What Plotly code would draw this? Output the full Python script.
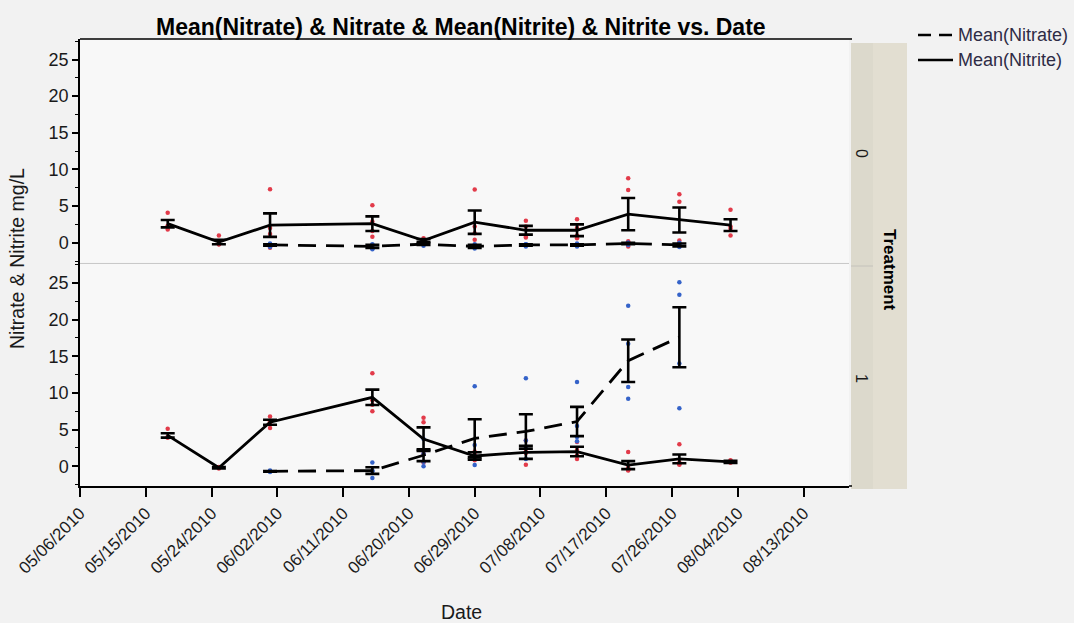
import plotly.graph_objects as go
from plotly.subplots import make_subplots

# Sampling dates (weekly, no sample on 06/08)
dates = ["2010-05-18", "2010-05-25", "2010-06-01", "2010-06-15", "2010-06-22",
         "2010-06-29", "2010-07-06", "2010-07-13", "2010-07-20", "2010-07-27",
         "2010-08-03"]

# Treatment 0: means and standard errors (mg/L)
t0_nitrite_mean = [2.6, 0.1, 2.4, 2.6, 0.3, 2.8, 1.7, 1.7, 3.9, 3.1, 2.4]
t0_nitrite_se = [0.5, 0.3, 1.6, 1.0, 0.2, 1.6, 0.6, 0.8, 2.2, 1.7, 0.8]
t0_nitrate_mean = [None, None, -0.3, -0.5, -0.2, -0.5, -0.3, -0.3, -0.1, -0.3, None]
t0_nitrate_se = [0, 0, 0.1, 0.2, 0.1, 0.2, 0.1, 0.1, 0.1, 0.2, 0]

# Treatment 1: means and standard errors (mg/L)
t1_nitrite_mean = [4.2, -0.2, 6.0, 9.4, 3.7, 1.4, 1.9, 2.0, 0.15, 1.0, 0.6]
t1_nitrite_se = [0.3, 0.1, 0.35, 1.05, 1.6, 0.5, 0.9, 0.65, 0.55, 0.6, 0.15]
t1_nitrate_mean = [None, None, -0.7, -0.6, 1.5, 3.8, 4.75, 6.1, 14.4, 17.6, None]
t1_nitrate_se = [0, 0, 0.05, 0.45, 0.8, 2.6, 2.35, 2.0, 2.9, 4.1, 0]

# Individual replicate readings per date
t0_nitrite_reps = [[4.1, 2.2, 1.8, 2.3], [1.0, -0.2, -0.2, -0.2], [7.3, 2.0, 1.2, -0.7],
                   [5.1, 2.9, 1.6, 0.8], [0.6, 0.3, 0.2, 0.1], [7.25, 2.2, 0.4, 1.3],
                   [3.0, 2.2, 0.9, 0.7], [3.2, 2.0, 1.0, 0.6], [8.8, 7.2, 0.2, -0.5],
                   [6.6, 5.6, 0.3, -0.1], [4.5, 2.2, 1.9, 1.0]]
t0_nitrate_reps = [[], [], [-0.6, -0.3, -0.2, -0.1], [-0.9, -0.6, -0.3, -0.2],
                   [-0.4, -0.2, -0.1, -0.1], [-0.8, -0.6, -0.4, -0.2],
                   [-0.5, -0.3, -0.2, -0.2], [-0.5, -0.3, -0.3, -0.1],
                   [-0.3, -0.1, 0.0, 0.0], [-0.6, -0.4, -0.2, 0.0], []]
t1_nitrite_reps = [[5.1, 4.0, 4.0, 3.9], [-0.1, -0.2, -0.3, -0.2], [6.8, 5.2, 6.0, 6.1],
                   [12.7, 7.5, 9.0, 8.4], [6.6, 6.0, 1.7, 0.5], [2.0, 1.6, 1.2, 0.8],
                   [3.5, 2.0, 1.8, 0.2], [3.3, 2.2, 1.0, 1.5], [1.95, -0.2, -0.5, -0.6],
                   [3.0, 0.5, 0.3, 0.2], [0.8, 0.7, 0.5, 0.5]]
t1_nitrate_reps = [[], [], [-0.6, -0.7, -0.7, -0.8], [0.5, -1.6, -0.7, -0.6],
                   [3.7, 1.7, 0.6, 0.0], [10.9, 2.9, 1.4, 0.15], [12.0, 3.5, 2.5, 1.0],
                   [11.5, 5.5, 4.0, 3.4], [21.9, 16.7, 10.8, 9.2],
                   [25.1, 23.4, 14.0, 7.9], []]

treatment_levels = ["0", "1"]
x_tick_start = "2010-05-06"
x_range = ["2010-05-06", "2010-08-19 05:00"]
y_range = [-2.7, 27.8]

FONT = "Liberation Sans, Arial, sans-serif"
RED = "#e23b4a"
BLUE = "#3563c9"

# Canvas geometry (pixels)
W, H = 1074, 623
L, R, T, B = 80, 849, 39, 486


def px_x(x):
    return (x - L) / (R - L)


def px_y(y):
    return (B - y) / (B - T)


def flatten(reps):
    xs, ys = [], []
    for d, vals in zip(dates, reps):
        for v in vals:
            xs.append(d)
            ys.append(v)
    return xs, ys


fig = make_subplots(rows=2, cols=1, shared_xaxes=True, vertical_spacing=0)

panels = [
    (1, t0_nitrite_reps, t0_nitrate_reps, t0_nitrite_mean, t0_nitrite_se,
     t0_nitrate_mean, t0_nitrate_se),
    (2, t1_nitrite_reps, t1_nitrate_reps, t1_nitrite_mean, t1_nitrite_se,
     t1_nitrate_mean, t1_nitrate_se),
]

for row, ni_reps, na_reps, ni_mean, ni_se, na_mean, na_se in panels:
    xs, ys = flatten(ni_reps)
    fig.add_trace(go.Scatter(x=xs, y=ys, mode="markers", name="Nitrite",
                             marker=dict(color=RED, size=4.5), showlegend=False),
                  row=row, col=1)
    xs, ys = flatten(na_reps)
    fig.add_trace(go.Scatter(x=xs, y=ys, mode="markers", name="Nitrate",
                             marker=dict(color=BLUE, size=4.5), showlegend=False),
                  row=row, col=1)
    fig.add_trace(go.Scatter(x=dates, y=na_mean, mode="lines", name="Mean(Nitrate)",
                             line=dict(color="black", width=2.8, dash="18px,10px"),
                             error_y=dict(type="data", array=na_se, color="black",
                                          thickness=2.6, width=7),
                             showlegend=False),
                  row=row, col=1)
    fig.add_trace(go.Scatter(x=dates, y=ni_mean, mode="lines", name="Mean(Nitrite)",
                             line=dict(color="black", width=2.8),
                             error_y=dict(type="data", array=ni_se, color="black",
                                          thickness=2.6, width=7),
                             showlegend=False),
                  row=row, col=1)

yaxis_style = dict(
    range=y_range, tickmode="array", tickvals=[0, 5, 10, 15, 20, 25],
    ticks="outside", ticklen=6, tickwidth=1.5, tickcolor="black",
    showline=True, linecolor="black", linewidth=1.5, showgrid=False, zeroline=False,
    tickfont=dict(family=FONT, size=18, color="#1a1a1a"),
    minor=dict(dtick=2.5, tick0=0, ticks="outside", ticklen=3, tickcolor="black",
               tickwidth=1.2, showgrid=False),
)
fig.update_yaxes(**yaxis_style, row=1, col=1)
fig.update_yaxes(**yaxis_style, row=2, col=1)

fig.update_xaxes(range=x_range, showgrid=False, zeroline=False, row=1, col=1,
                 showline=True, linecolor="#c9c9c9", linewidth=1, ticks="",
                 showticklabels=False)
fig.update_xaxes(range=x_range, showgrid=False, zeroline=False, row=2, col=1,
                 type="date", tickmode="linear", tick0=x_tick_start,
                 dtick=9 * 86400000, tickformat="%m/%d/%Y", tickangle=-45,
                 ticks="outside", ticklen=9, tickwidth=1.5, tickcolor="black",
                 showline=True, linecolor="black", linewidth=1.5,
                 tickfont=dict(family=FONT, size=17, color="#1a1a1a"))

shapes = [
    # top frame
    dict(type="line", xref="paper", yref="paper", x0=0, x1=px_x(852), y0=1, y1=1,
         line=dict(color="black", width=1.5)),
    dict(type="line", xref="paper", yref="paper", x0=px_x(849), x1=px_x(852), y0=0, y1=0,
         line=dict(color="black", width=1.5)),
    # Treatment strip
    dict(type="rect", xref="paper", yref="paper", x0=px_x(851), x1=px_x(873),
         y0=px_y(489), y1=px_y(43), fillcolor="#dcd9cc", line=dict(width=0), layer="below"),
    dict(type="rect", xref="paper", yref="paper", x0=px_x(873), x1=px_x(907),
         y0=px_y(489), y1=px_y(43), fillcolor="#e2ded1", line=dict(width=0), layer="below"),
    dict(type="line", xref="paper", yref="paper", x0=px_x(851), x1=px_x(873),
         y0=px_y(266), y1=px_y(266), line=dict(color="#c4c2bb", width=1)),
    # legend keys
    dict(type="line", xref="paper", yref="paper", x0=px_x(918), x1=px_x(953),
         y0=px_y(35), y1=px_y(35), line=dict(color="black", width=2.6, dash="13px,8px")),
    dict(type="line", xref="paper", yref="paper", x0=px_x(918), x1=px_x(953),
         y0=px_y(60), y1=px_y(60), line=dict(color="black", width=2.6)),
]

annotations = [
    dict(text="<b>Mean(Nitrate) & Nitrate & Mean(Nitrite) & Nitrite vs. Date</b>",
         xref="paper", yref="paper", x=px_x(461), y=px_y(27), showarrow=False,
         font=dict(family=FONT, size=23, color="black"), xanchor="center", yanchor="middle"),
    dict(text="Nitrate & Nitrite mg/L", xref="paper", yref="paper", x=px_x(17),
         y=px_y(259), showarrow=False, textangle=-90,
         font=dict(family=FONT, size=19.5, color="#1a1a1a"), xanchor="center", yanchor="middle"),
    dict(text="Date", xref="paper", yref="paper", x=px_x(461), y=px_y(612),
         showarrow=False, font=dict(family=FONT, size=19.5, color="#1a1a1a"),
         xanchor="center", yanchor="middle"),
    dict(text=treatment_levels[0], xref="paper", yref="paper", x=px_x(862), y=px_y(153),
         showarrow=False, textangle=90, font=dict(family=FONT, size=16, color="#1a1a1a"),
         xanchor="center", yanchor="middle"),
    dict(text=treatment_levels[1], xref="paper", yref="paper", x=px_x(862), y=px_y(378),
         showarrow=False, textangle=90, font=dict(family=FONT, size=16, color="#1a1a1a"),
         xanchor="center", yanchor="middle"),
    dict(text="<b>Treatment</b>", xref="paper", yref="paper", x=px_x(890), y=px_y(270),
         showarrow=False, textangle=90, font=dict(family=FONT, size=17, color="black"),
         xanchor="center", yanchor="middle"),
    dict(text="Mean(Nitrate)", xref="paper", yref="paper", x=px_x(956), y=px_y(35),
         showarrow=False, font=dict(family=FONT, size=18, color="#2e2b45"),
         xanchor="left", yanchor="middle"),
    dict(text="Mean(Nitrite)", xref="paper", yref="paper", x=px_x(956), y=px_y(60),
         showarrow=False, font=dict(family=FONT, size=18, color="#2e2b45"),
         xanchor="left", yanchor="middle"),
]

fig.update_layout(
    width=W, height=H,
    margin=dict(l=L, r=W - R, t=T, b=H - B),
    paper_bgcolor="#f2f2f2", plot_bgcolor="#f8f8f8",
    showlegend=False, shapes=shapes, annotations=annotations,
    font=dict(family=FONT),
)

fig.write_html("out.html")
